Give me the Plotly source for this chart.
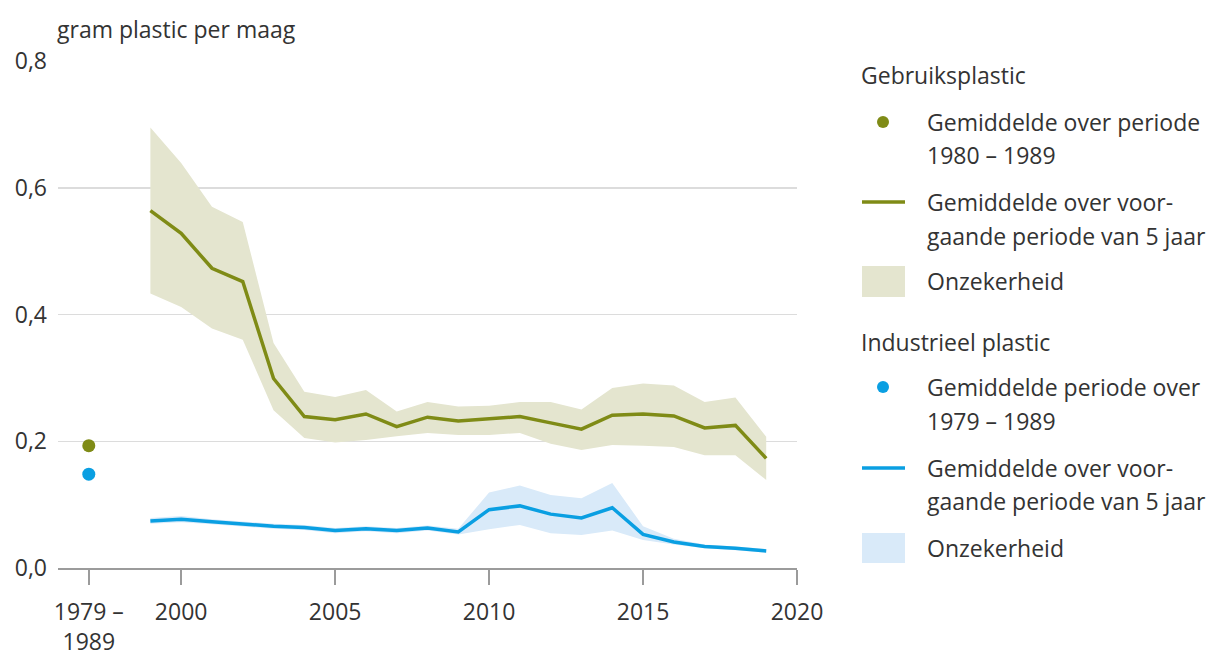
import plotly.graph_objects as go

# ---------------- data ----------------
years = list(range(1999, 2020))

geb_mean = [0.564, 0.528, 0.473, 0.452, 0.299, 0.239, 0.234, 0.243, 0.223, 0.238, 0.232,
            0.235, 0.239, 0.229, 0.219, 0.241, 0.243, 0.240, 0.221, 0.225, 0.173]
geb_upper = [0.695, 0.639, 0.570, 0.546, 0.355, 0.278, 0.270, 0.281, 0.247, 0.262, 0.255,
             0.256, 0.262, 0.262, 0.250, 0.284, 0.291, 0.288, 0.262, 0.269, 0.207]
geb_lower = [0.433, 0.412, 0.378, 0.360, 0.249, 0.205, 0.198, 0.202, 0.208, 0.213, 0.210,
             0.210, 0.213, 0.196, 0.186, 0.194, 0.193, 0.191, 0.178, 0.178, 0.139]

ind_mean = [0.074, 0.077, 0.073, 0.069, 0.066, 0.064, 0.059, 0.062, 0.059, 0.063, 0.057,
            0.092, 0.098, 0.085, 0.079, 0.095, 0.053, 0.041, 0.034, 0.031, 0.027]
ind_upper = [0.079, 0.082, 0.077, 0.073, 0.070, 0.068, 0.063, 0.066, 0.063, 0.067, 0.062,
             0.119, 0.130, 0.115, 0.110, 0.134, 0.066, 0.046, 0.037, 0.034, 0.030]
ind_lower = [0.070, 0.072, 0.069, 0.065, 0.062, 0.060, 0.055, 0.058, 0.055, 0.059, 0.053,
             0.061, 0.068, 0.055, 0.052, 0.059, 0.044, 0.037, 0.031, 0.028, 0.024]

period_x = 1997
geb_period_value = 0.193   # Gemiddelde over periode 1980 - 1989
ind_period_value = 0.148   # Gemiddelde periode over 1979 - 1989

tick_vals = [1997, 2000, 2005, 2010, 2015, 2020]
tick_text = ["1979 –<br>1989", "2000", "2005", "2010", "2015", "2020"]
y_ticks = [0.0, 0.2, 0.4, 0.6, 0.8]

# ---------------- style ----------------
FONT = "Open Sans"
TXT = "#333333"
GREEN = "#7f8b16"
GREEN_BAND = "#e4e5cf"
BLUE = "#0a9fe2"
BLUE_BAND = "#d9eaf9"
GRID = "#dcdcdc"
AXIS = "#9b9b9b"
FS = 23

fig = go.Figure()

# uncertainty bands
fig.add_trace(go.Scatter(x=years, y=geb_lower, mode="lines", line=dict(width=0),
                         showlegend=False, hoverinfo="skip"))
fig.add_trace(go.Scatter(x=years, y=geb_upper, mode="lines", line=dict(width=0),
                         fill="tonexty", fillcolor=GREEN_BAND, showlegend=False, hoverinfo="skip"))
fig.add_trace(go.Scatter(x=years, y=ind_lower, mode="lines", line=dict(width=0),
                         showlegend=False, hoverinfo="skip"))
fig.add_trace(go.Scatter(x=years, y=ind_upper, mode="lines", line=dict(width=0),
                         fill="tonexty", fillcolor=BLUE_BAND, showlegend=False, hoverinfo="skip"))

# means
fig.add_trace(go.Scatter(x=years, y=geb_mean, mode="lines", line=dict(color=GREEN, width=3.5),
                         showlegend=False))
fig.add_trace(go.Scatter(x=years, y=ind_mean, mode="lines", line=dict(color=BLUE, width=3.5),
                         showlegend=False))

# period averages
fig.add_trace(go.Scatter(x=[period_x], y=[geb_period_value], mode="markers",
                         marker=dict(color=GREEN, size=13), showlegend=False))
fig.add_trace(go.Scatter(x=[period_x], y=[ind_period_value], mode="markers",
                         marker=dict(color=BLUE, size=13), showlegend=False))

# ---------------- layout ----------------
W, H = 1213, 655
L, R, T, B = 58, 797, 61, 568   # plot area in pixels


def px_x(p):
    return (p - L) / (R - L)


def px_y(p):
    return (B - p) / (B - T)


annotations = []
shapes = []

# axis title
annotations.append(dict(text="gram plastic per maag", xref="paper", yref="paper",
                        x=px_x(55), y=px_y(29), xanchor="left", yanchor="middle",
                        showarrow=False, font=dict(family=FONT, size=FS, color=TXT)))


def legend_text(text, xp, yp):
    annotations.append(dict(text=text, xref="paper", yref="paper", x=px_x(xp), y=px_y(yp),
                            xanchor="left", yanchor="middle", showarrow=False,
                            font=dict(family=FONT, size=FS, color=TXT)))


TX = 925
SX0, SX1 = 862, 905

# Gebruiksplastic group
legend_text("Gebruiksplastic", 859, 75)
shapes.append(dict(type="circle", xref="paper", yref="paper",
                   x0=px_x(883 - 6), x1=px_x(883 + 6), y0=px_y(122 - 6), y1=px_y(122 + 6),
                   fillcolor=GREEN, line=dict(width=0)))
legend_text("Gemiddelde over periode", TX, 122)
legend_text("1980 – 1989", TX, 155)
shapes.append(dict(type="line", xref="paper", yref="paper",
                   x0=px_x(SX0), x1=px_x(SX1), y0=px_y(202), y1=px_y(202),
                   line=dict(color=GREEN, width=3.5)))
legend_text("Gemiddelde over voor-", TX, 202)
legend_text("gaande periode van 5 jaar", TX, 236)
shapes.append(dict(type="rect", xref="paper", yref="paper",
                   x0=px_x(SX0), x1=px_x(SX1), y0=px_y(297), y1=px_y(266),
                   fillcolor=GREEN_BAND, line=dict(width=0)))
legend_text("Onzekerheid", TX, 281)

# Industrieel plastic group
legend_text("Industrieel plastic", 859, 342)
shapes.append(dict(type="circle", xref="paper", yref="paper",
                   x0=px_x(883 - 6), x1=px_x(883 + 6), y0=px_y(387 - 6), y1=px_y(387 + 6),
                   fillcolor=BLUE, line=dict(width=0)))
legend_text("Gemiddelde periode over", TX, 387)
legend_text("1979 – 1989", TX, 421)
shapes.append(dict(type="line", xref="paper", yref="paper",
                   x0=px_x(SX0), x1=px_x(SX1), y0=px_y(468), y1=px_y(468),
                   line=dict(color=BLUE, width=3.5)))
legend_text("Gemiddelde over voor-", TX, 468)
legend_text("gaande periode van 5 jaar", TX, 501)
shapes.append(dict(type="rect", xref="paper", yref="paper",
                   x0=px_x(SX0), x1=px_x(SX1), y0=px_y(563), y1=px_y(533),
                   fillcolor=BLUE_BAND, line=dict(width=0)))
legend_text("Onzekerheid", TX, 548)

fig.update_layout(
    width=W, height=H,
    margin=dict(l=L, r=W - R, t=T, b=H - B, pad=0, autoexpand=False),
    paper_bgcolor="white", plot_bgcolor="white",
    font=dict(family=FONT, size=FS, color=TXT),
    separators=",.",
    showlegend=False,
    hovermode=False,
    annotations=annotations,
    shapes=shapes,
    xaxis=dict(range=[1996, 2020], tickmode="array", tickvals=tick_vals, ticktext=tick_text,
               showgrid=False, zeroline=False, showline=True, linecolor=AXIS, linewidth=2,
               ticks="outside", ticklen=15, tickwidth=1.5, tickcolor=AXIS, automargin=False,
               ticklabelstandoff=7,
               tickfont=dict(family=FONT, size=FS, color=TXT), fixedrange=True),
    yaxis=dict(range=[0, 0.8], tickmode="array", tickvals=y_ticks, tickformat=".1f",
               showgrid=True, gridcolor=GRID, gridwidth=1.5, zeroline=False, showline=False,
               ticks="", ticklabelstandoff=10, automargin=False,
               tickfont=dict(family=FONT, size=FS, color=TXT), fixedrange=True),
)

fig.write_html("out.html", config={"displayModeBar": False, "staticPlot": True},
               post_script="document.body.style.margin='0';")
